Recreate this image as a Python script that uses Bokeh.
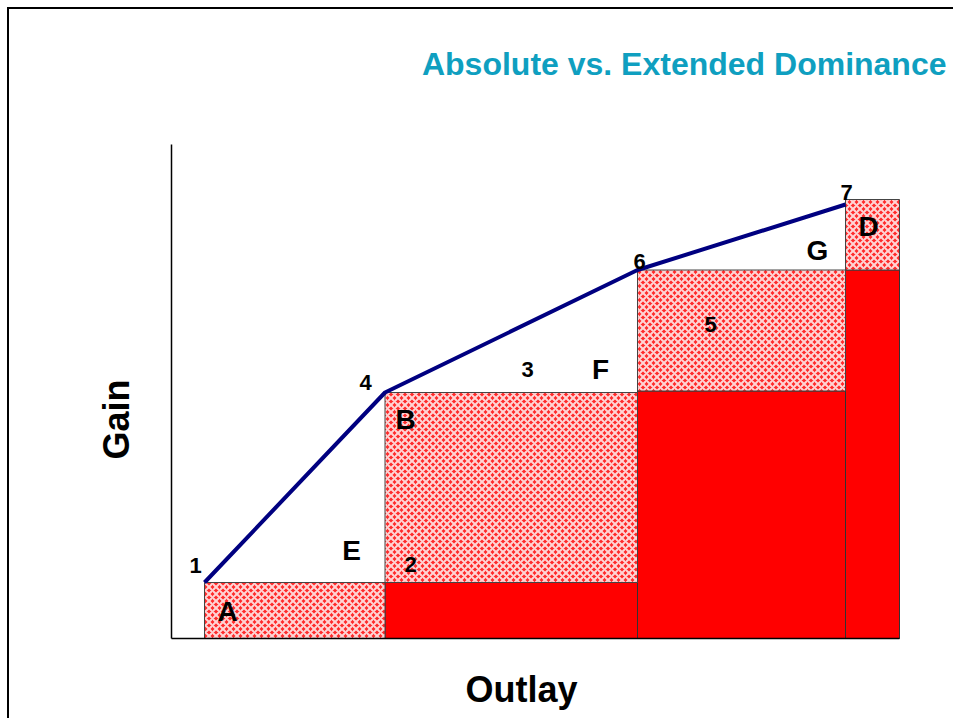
import math
from bokeh.plotting import figure
from bokeh.models import ColumnDataSource, Range1d
from bokeh.core.properties import value
from bokeh.embed import file_html
from bokeh.resources import INLINE

# ---- data ----
bar_names = ["A", "B", "C", "D"]
bar_left = [3.3, 21.35, 46.6, 67.4]          # outlay where each strategy starts
bar_right = [21.35, 46.6, 67.4, 72.8]        # outlay where each strategy ends
base_gain = [0.0, 5.6, 24.75, 36.85]         # solid (previous) gain
total_gain = [5.6, 24.6, 36.85, 43.9]        # top of hatched (incremental) gain

frontier_outlay = [3.3, 21.35, 46.6, 67.4]
frontier_gain = [5.6, 24.6, 36.85, 43.4]

axis_x_max = 72.8
axis_y_max = 49.4

point_labels = ["1", "2", "3", "4", "5", "6", "7"]
point_x = [2.4, 23.9, 35.6, 19.4, 53.9, 46.8, 67.5]
point_y = [7.3, 7.4, 26.9, 25.6, 31.4, 37.7, 44.6]

letter_labels = ["A", "B", "D", "E", "F", "G"]
letter_x = [5.6, 23.4, 69.7, 18.0, 42.9, 64.6]
letter_y = [2.7, 21.9, 41.2, 8.8, 26.9, 38.8]

title_text = "Absolute vs. Extended Dominance"
x_label = "Outlay"
y_label = "Gain"

# ---- figure ----
W, H = 946, 711
p = figure(width=W, height=H, output_backend="svg", toolbar_location=None,
           x_range=Range1d(-16.2, 78.4), y_range=Range1d(-8.2, 62.9),
           min_border=0, x_axis_location=None, y_axis_location=None)
p.xgrid.visible = False
p.ygrid.visible = False
p.outline_line_color = None
p.background_fill_color = "white"
p.border_fill_color = "white"
p.styles = {"border-top": "2px solid black", "border-left": "2px solid black",
            "margin-left": "7px", "margin-top": "7px"}

FONT = value("Liberation Sans")

src = ColumnDataSource(dict(name=bar_names, left=bar_left, right=bar_right,
                            base=base_gain, top=total_gain,
                            zero=[0.0] * len(bar_names)))

# solid base bars
p.quad(left="left", right="right", bottom="zero", top="base", source=src,
       fill_color="#ff0000", line_color="#333333", line_width=1)
# hatched incremental bars
p.quad(left="left", right="right", bottom="base", top="top", source=src,
       fill_color="#ff2a2a", line_color="#444444", line_width=1,
       hatch_pattern="diagonal_cross", hatch_color="white",
       hatch_scale=7, hatch_weight=2, hatch_alpha=0.8)

# axes lines
p.segment(x0=[0, 0], y0=[0, 0], x1=[axis_x_max, 0], y1=[0, axis_y_max],
          line_color="black", line_width=1.5)

# efficiency frontier
p.line(frontier_outlay, frontier_gain, line_color="#000080", line_width=4)

# labels
p.text(x=point_x, y=point_y, text=point_labels, text_font=FONT,
       text_font_style="bold", text_font_size="22px", text_color="black",
       text_align="center", text_baseline="middle")
p.text(x=letter_x, y=letter_y, text=letter_labels, text_font=FONT,
       text_font_style="bold", text_font_size="28px", text_color="black",
       text_align="center", text_baseline="middle")

p.text(x=[77.5], y=[57.5], text=[title_text], text_font=FONT,
       text_font_style="bold", text_font_size="32px", text_color="#0f9fc0",
       text_align="right", text_baseline="middle")
p.text(x=[35.0], y=[-5.1], text=[x_label], text_font=FONT,
       text_font_style="bold", text_font_size="36px", text_color="black",
       text_align="center", text_baseline="middle")
p.text(x=[-5.5], y=[21.9], text=[y_label], text_font=FONT,
       text_font_style="bold", text_font_size="36px", text_color="black",
       text_align="center", text_baseline="middle", angle=math.pi / 2)

open("out.html", "w").write(file_html(p, INLINE))
